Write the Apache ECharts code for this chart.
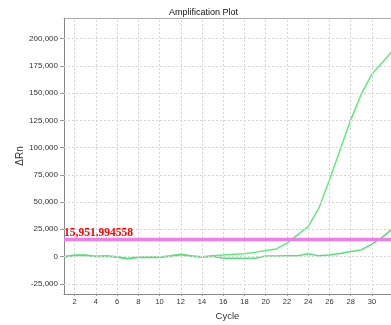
<!DOCTYPE html>
<html>
<head>
<meta charset="utf-8">
<script src="https://cdn.jsdelivr.net/npm/echarts@6/dist/echarts.min.js"></script>
<style>html,body{margin:0;padding:0;background:#fff}#c{width:391px;height:325px}</style>
</head>
<body>
<div id="c"></div>
<script>
const cycles = [1,2,3,4,5,6,7,8,9,10,11,12,13,14,15,16,17,18,19,20,21,22,23,24,25,26,27,28,29,30,31,32];
const wellA = [0,1300,1300,300,600,-300,-1800,-500,-500,-500,600,2200,600,-300,600,1300,2000,2500,3800,5500,7000,12300,19900,27500,44300,70200,97700,125200,149000,167300,178300,189300];
const wellB = [-500,1000,1000,0,300,-600,-2000,-800,-800,-800,300,1600,300,-600,300,-1500,-1500,-1500,-1500,400,400,600,600,2500,600,1300,2700,4600,6100,11300,17800,26000];
const threshold = 15951.994558;
const thresholdLabel = '15,951.994558';
const yTicks = [-25000,0,25000,50000,75000,100000,125000,150000,175000,200000];
const xTicks = [2,4,6,8,10,12,14,16,18,20,22,24,26,28,30];

const chart = echarts.init(document.getElementById('c'), null, {renderer:'canvas'});
const pair = arr => cycles.map((c,i)=>[c,arr[i]]);
const sans = 'Liberation Sans';
const gridLineStyle = {color:'#d6d6d6', type:[2,2], width:1};
const xMin = 1, xMax = 31.8, yMin = -34400, yMax = 218900;
chart.setOption({
  animation:false,
  title:{text:'Amplification Plot', left:164, top:3, textStyle:{fontFamily:sans, fontSize:9, fontWeight:'normal', color:'#111'}},
  grid:{left:64, right:0, top:18, bottom:31, containLabel:false, outerBoundsMode:'none'},
  xAxis:[{type:'value', min:xMin, max:xMax, name:'Cycle', nameLocation:'middle', nameGap:17, nameMoveOverlap:false,
    nameTextStyle:{fontFamily:sans, fontSize:9.5, color:'#333'},
    axisLine:{show:true, onZero:false, lineStyle:{color:'#888'}},
    axisTick:{show:true, length:2, customValues:xTicks, lineStyle:{color:'#999'}},
    axisLabel:{customValues:xTicks, fontFamily:sans, fontSize:7.5, color:'#333', margin:4},
    splitLine:{show:false}, minorSplitLine:{show:false}},
   {type:'value', position:'top', min:xMin, max:xMax,
    axisLine:{show:true, onZero:false, lineStyle:{color:'#aaa'}},
    axisTick:{show:false}, axisLabel:{show:false}, splitLine:{show:false}, minorSplitLine:{show:false}}],
  yAxis:{type:'value', min:yMin, max:yMax, name:'ΔRn', nameLocation:'middle', nameGap:39, nameMoveOverlap:false,
    nameTextStyle:{fontFamily:sans, fontSize:10, color:'#333'},
    axisLine:{show:true, onZero:false, lineStyle:{color:'#888'}},
    axisTick:{show:true, length:4, customValues:yTicks, lineStyle:{color:'#999'}},
    axisLabel:{customValues:yTicks, fontFamily:sans, fontSize:8, color:'#333', margin:6,
      formatter:v=>v.toLocaleString('en-US')},
    splitLine:{show:false}, minorSplitLine:{show:false}},
  series:[
    {type:'line', data:[], z:1, silent:true,
     markLine:{silent:true, symbol:'none', animation:false, label:{show:false},
       lineStyle:gridLineStyle,
       data:[...xTicks.map(v=>({xAxis:v})), ...yTicks.map(v=>({yAxis:v}))]}},
    {type:'line', data:pair(wellA), showSymbol:false, lineStyle:{color:'#62ea80', width:1.5}, z:3},
    {type:'line', data:pair(wellB), showSymbol:false, lineStyle:{color:'#55e074', width:1.5}, z:3},
    {type:'line', data:[], z:4, silent:true,
     markLine:{silent:true, symbol:'none', animation:false,
       lineStyle:{color:'#f07ee4', width:3.4, type:'solid'},
       label:{show:true, formatter:thresholdLabel, position:'insideStartTop', distance:[0,0],
         fontFamily:'Liberation Serif', fontWeight:'bold', fontSize:11.5, color:'#ff0000'},
       data:[{yAxis:threshold}]}}
  ]
});
</script>
</body>
</html>
